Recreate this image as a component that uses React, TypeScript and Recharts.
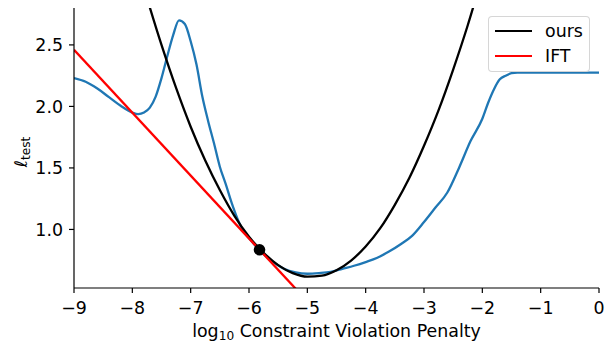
import React from 'react';
import { ComposedChart, Line, Scatter, XAxis, YAxis, Label } from 'recharts';

// measured test loss (blue)
const lossX = [-9, -8.8, -8.6, -8.4, -8.2, -8, -7.9, -7.8, -7.7, -7.6, -7.5, -7.4, -7.3, -7.2, -7.1, -7, -6.9, -6.8, -6.7, -6.6, -6.5, -6.4, -6.3, -6.2, -6.1, -6, -5.8, -5.6, -5.4, -5.2, -5, -4.8, -4.6, -4.4, -4.2, -4, -3.8, -3.6, -3.4, -3.2, -3, -2.8, -2.6, -2.4, -2.2, -2, -1.9, -1.8, -1.7, -1.6, -1.5, -1.4, -1, 0];
const lossY = [2.23, 2.2, 2.145, 2.075, 2.005, 1.95, 1.937, 1.95, 1.99, 2.08, 2.23, 2.41, 2.58, 2.7, 2.67, 2.53, 2.34, 2.08, 1.88, 1.7, 1.51, 1.37, 1.22, 1.09, 0.99, 0.93, 0.82, 0.74, 0.68, 0.65, 0.64, 0.645, 0.655, 0.68, 0.705, 0.735, 0.77, 0.82, 0.88, 0.95, 1.06, 1.18, 1.3, 1.5, 1.72, 1.9, 2.03, 2.14, 2.22, 2.25, 2.27, 2.275, 2.275, 2.275];

// "ours" quadratic model (black)
const oursX = [-7.8, -7.5, -7.25, -7, -6.75, -6.5, -6.25, -6, -5.75, -5.5, -5.25, -5, -4.75, -4.5, -4.25, -4, -3.75, -3.5, -3.25, -3, -2.75, -2.5, -2.25, -2];
const oursY = [2.96, 2.5, 2.15, 1.835, 1.56, 1.32, 1.11, 0.94, 0.81, 0.71, 0.645, 0.616, 0.624, 0.668, 0.747, 0.861, 1.01, 1.2, 1.42, 1.68, 1.97, 2.3, 2.66, 3.06];

// IFT linearisation (red)
const iftX = [-9, -5];
const iftY = [2.46, 0.416];

// current point
const pointX = [-5.82];
const pointY = [0.835];

const xTicks = [-9, -8, -7, -6, -5, -4, -3, -2, -1, 0];
const yTicks = [1.0, 1.5, 2.0, 2.5];
const seriesNames = ['ours', 'IFT'];
const seriesColors = ['#000000', '#ff0000'];

const zip = (xs: number[], ys: number[]) => xs.map((x, i) => ({ x, y: ys[i] }));
const lossData = zip(lossX, lossY);
const oursData = zip(oursX, oursY);
const iftData = zip(iftX, iftY);
const pointData = zip(pointX, pointY);

const FONT = '"DejaVu Sans", sans-serif';
const FS = 17.4;

const fmtX = (v: number) => (v < 0 ? `\u2212${-v}` : `${v}`);
const fmtY = (v: number) => v.toFixed(1);

const XLabel = (props: any) => {
  const vb = props.viewBox || {};
  const cx = vb.x + vb.width / 2;
  return (
    <text x={cx} y={336.5} textAnchor="middle" fontFamily={FONT} fontSize={FS} fill="#000">
      log<tspan fontSize={FS * 0.7} dy={3}>10</tspan>
      <tspan dy={-3}> Constraint Violation Penalty</tspan>
    </text>
  );
};

const YLabel = (props: any) => {
  const vb = props.viewBox || {};
  const cy = vb.y + vb.height / 2;
  return (
    <text x={0} y={0} transform={`translate(27, ${cy + 4}) rotate(-90)`} textAnchor="middle" fontFamily={FONT} fontSize={FS} fill="#000">
      <tspan fontStyle="italic">ℓ</tspan>
      <tspan fontSize={FS * 0.7} dy={3}>test</tspan>
    </text>
  );
};

const LegendBox = () => (
  <div
    style={{
      position: 'absolute',
      left: 488,
      top: 16,
      width: 102,
      height: 56,
      border: '1px solid rgba(204,204,204,0.8)',
      borderRadius: 4,
      background: 'rgba(255,255,255,0.8)',
      boxSizing: 'border-box',
    }}
  >
    <svg width={102} height={56} style={{ position: 'absolute', left: -1, top: -1 }}>
      {seriesNames.map((name, i) => (
        <g key={name}>
          <line x1={7} x2={44} y1={15 + i * 25} y2={15 + i * 25} stroke={seriesColors[i]} strokeWidth={2.2} />
          <text x={57} y={21 + i * 25} fontFamily={FONT} fontSize={FS} fill="#000">
            {name}
          </text>
        </g>
      ))}
    </svg>
  </div>
);

export default function App() {
  return (
    <div style={{ position: 'absolute', left: 0, top: 0, width: 609, height: 341, background: '#fff' }}>
      <ComposedChart width={609} height={341} margin={{ top: 8, right: 10, bottom: 0, left: 0 }}>
        <XAxis
          type="number"
          dataKey="x"
          domain={[-9, 0]}
          ticks={xTicks}
          tickFormatter={fmtX}
          allowDataOverflow
          height={53}
          tickSize={5}
          tickMargin={9}
          axisLine={{ stroke: '#000', strokeWidth: 1.2 }}
          tickLine={{ stroke: '#000', strokeWidth: 1.2 }}
          tick={{ fill: '#000', fontFamily: FONT, fontSize: FS }}
        >
          <Label content={<XLabel />} />
        </XAxis>
        <YAxis
          type="number"
          dataKey="y"
          domain={[0.524, 2.8]}
          ticks={yTicks}
          tickFormatter={fmtY}
          allowDataOverflow
          width={74}
          tickSize={5}
          tickMargin={6}
          axisLine={{ stroke: '#000', strokeWidth: 1.2 }}
          tickLine={{ stroke: '#000', strokeWidth: 1.2 }}
          tick={{ fill: '#000', fontFamily: FONT, fontSize: FS }}
        >
          <Label content={<YLabel />} />
        </YAxis>
        <Line data={lossData} dataKey="y" type="monotone" stroke="#1f77b4" strokeWidth={2.3} dot={false} isAnimationActive={false} />
        <Line data={oursData} dataKey="y" type="monotone" stroke="#000" strokeWidth={2.3} dot={false} isAnimationActive={false} />
        <Line data={iftData} dataKey="y" type="linear" stroke="#ff0000" strokeWidth={2.3} dot={false} isAnimationActive={false} />
        <Scatter
          data={pointData}
          dataKey="y"
          isAnimationActive={false}
          shape={(p: any) => <circle cx={p.cx} cy={p.cy} r={5.8} fill="#000" />}
        />
      </ComposedChart>
      <LegendBox />
    </div>
  );
}
